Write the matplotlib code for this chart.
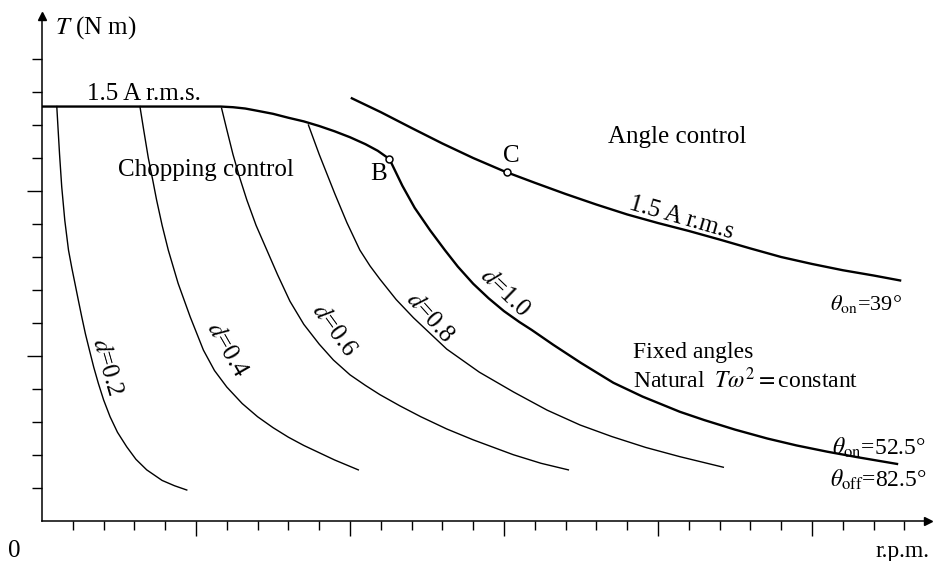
import matplotlib
matplotlib.use("Agg")
import matplotlib.pyplot as plt
from matplotlib.ticker import FixedLocator, NullFormatter

plt.rcParams["font.family"] = ["Liberation Serif", "DejaVu Serif"]
plt.rcParams["mathtext.fontset"] = "stix"

# ==========================
# Curve data (speed in tick units, torque in tick units)
# ==========================

# 1.5 A r.m.s. current limit under chopping control, up to base point B
limit_speed = [0.0, 5.8, 6.2, 6.6, 7.0, 7.5, 8.0, 8.5, 9.0, 9.5, 10.0, 10.5, 10.9, 11.28]
limit_torque = [12.55, 12.55, 12.53, 12.49, 12.42, 12.33, 12.21, 12.10, 11.96,
                11.80, 11.62, 11.41, 11.21, 10.96]

# angle control envelope at 1.5 A r.m.s. (theta_on = 39 deg)
angle_speed = [10.06, 11.0, 12.0, 13.0, 14.0, 15.0, 16.0, 17.0, 18.0, 19.0,
               20.0, 21.0, 22.0, 23.0, 24.0, 25.0, 26.0, 27.0, 27.86]
angle_torque = [12.80, 12.38, 11.90, 11.43, 10.99, 10.59, 10.24, 9.90, 9.58, 9.28,
                9.02, 8.78, 8.52, 8.25, 7.99, 7.78, 7.59, 7.43, 7.28]

# natural characteristic, fixed angles (d = 1.0)
d10_speed = [11.28, 11.7, 12.1, 12.6, 13.08, 13.5, 14.0, 14.5, 15.0, 15.5, 15.9,
             16.6, 17.5, 18.55, 19.5, 20.71, 21.5, 22.5, 23.55, 24.5, 25.5, 26.5, 27.76]
d10_torque = [10.96, 10.15, 9.48, 8.80, 8.20, 7.70, 7.18, 6.74, 6.35, 6.02, 5.78,
              5.33, 4.78, 4.18, 3.76, 3.30, 3.05, 2.76, 2.49, 2.28, 2.09, 1.92, 1.72]

# chopping duty cycle curves
d02_speed = [0.48, 0.52, 0.57, 0.64, 0.74, 0.86, 0.97, 1.07, 1.18, 1.29, 1.41, 1.54,
             1.68, 1.83, 2.0, 2.21, 2.45, 2.75, 3.05, 3.40, 3.9, 4.3, 4.70]
d02_torque = [12.55, 11.9, 11.1, 10.12, 9.1, 8.2, 7.65, 7.19, 6.68, 6.18, 5.66, 5.17,
              4.65, 4.16, 3.66, 3.15, 2.68, 2.24, 1.86, 1.54, 1.22, 1.06, 0.93]

d04_speed = [3.18, 3.3, 3.45, 3.6, 3.72, 3.9, 4.1, 4.42, 4.81, 5.24, 5.6, 6.0,
             6.5, 7.0, 7.5, 8.0, 8.5, 9.0, 9.5, 10.27]
d04_torque = [12.55, 11.85, 11.0, 10.3, 9.72, 8.95, 8.2, 7.19, 6.18, 5.17, 4.55, 4.05,
              3.55, 3.15, 2.82, 2.53, 2.28, 2.06, 1.84, 1.54]

d06_speed = [5.83, 6.0, 6.2, 6.4, 6.65, 6.95, 7.3, 7.65, 8.05, 8.5, 9.0, 9.46, 10.0,
             10.5, 10.97, 11.62, 12.3, 13.14, 14.0, 15.3, 16.2, 17.09]
d06_torque = [12.5, 11.85, 11.1, 10.45, 9.72, 8.95, 8.2, 7.45, 6.65, 5.95, 5.35, 4.87,
              4.42, 4.1, 3.82, 3.48, 3.15, 2.78, 2.45, 2.0, 1.74, 1.54]

d08_speed = [8.65, 9.0, 9.51, 9.9, 10.32, 10.65, 10.97, 11.5, 12.06, 13.14, 14.2,
             15.31, 16.4, 17.47, 18.5, 19.6, 20.71, 22.12]
d08_torque = [11.99, 11.1, 9.9, 9.03, 8.2, 7.72, 7.32, 6.7, 6.15, 5.2, 4.5,
              3.9, 3.35, 2.9, 2.55, 2.22, 1.94, 1.62]

# marked operating points
point_labels = ["B", "C"]
point_speed = [11.28, 15.09]
point_torque = [10.96, 10.56]

duty_labels = ["0.2", "0.4", "0.6", "0.8", "1.0"]

# ==========================
# Figure
# ==========================

fig = plt.figure(figsize=(9.33, 5.61), dpi=100)
ax = fig.add_axes([0.04502, 0.07184, 0.9491, 0.9])
ax.set_xlim(0, 28.75)
ax.set_ylim(0, 15.3)

thick = 1.7
thin = 1.0

ax.plot(limit_speed, limit_torque, color="black", lw=thick)
ax.plot(angle_speed, angle_torque, color="black", lw=thick)
ax.plot(d10_speed, d10_torque, color="black", lw=thick)

for xs, ys in [(d02_speed, d02_torque), (d04_speed, d04_torque),
               (d06_speed, d06_torque), (d08_speed, d08_torque)]:
    ax.plot(xs, ys, color="black", lw=thin)

ax.plot(point_speed, point_torque, "o", ms=5, mfc="white", mec="black",
        mew=1.1, zorder=5)

# ==========================
# Axes styling
# ==========================

for side in ["top", "right"]:
    ax.spines[side].set_visible(False)
for side in ["left", "bottom"]:
    ax.spines[side].set_linewidth(1.1)

ax.xaxis.set_major_locator(FixedLocator([5, 10, 15, 20, 25]))
ax.xaxis.set_minor_locator(FixedLocator([k for k in range(1, 29) if k % 5]))
ax.yaxis.set_major_locator(FixedLocator([5, 10]))
ax.yaxis.set_minor_locator(FixedLocator([k for k in range(1, 15) if k % 5]))
ax.xaxis.set_major_formatter(NullFormatter())
ax.yaxis.set_major_formatter(NullFormatter())
ax.tick_params(axis="x", which="major", direction="out", length=11, width=1.0)
ax.tick_params(axis="x", which="minor", direction="out", length=6.5, width=1.0)
ax.tick_params(axis="y", which="major", direction="out", length=11, width=1.0)
ax.tick_params(axis="y", which="minor", direction="out", length=7, width=1.0)

ax.plot(1, 0, ">", color="black", ms=6, transform=ax.transAxes, clip_on=False)
ax.plot(0, 1, "^", color="black", ms=6, transform=ax.transAxes, clip_on=False)

# ==========================
# Labels
# ==========================

fs = 18

ax.text(0.42, 14.77, r"$T$ (N m)", fontsize=fs, ha="left", va="baseline")
ax.text(-0.91, -1.10, "0", fontsize=fs, ha="center", va="baseline")
ax.text(28.83, -1.10, "r.p.m.", fontsize=17, ha="right", va="baseline")

ax.text(1.46, 12.75, "1.5 A r.m.s.", fontsize=fs, ha="left", va="baseline")
ax.text(2.47, 10.44, "Chopping control", fontsize=fs, ha="left", va="baseline")
ax.text(18.38, 11.45, "Angle control", fontsize=fs, ha="left", va="baseline")
ax.text(19.03, 9.45, "1.5 A r.m.s", fontsize=fs, ha="left", va="baseline",
        rotation=-16, rotation_mode="anchor")

ax.text(10.65, 10.32, point_labels[0], fontsize=fs, ha="left", va="baseline")
ax.text(14.97, 10.87, point_labels[1], fontsize=fs, ha="left", va="baseline")

ax.text(19.19, 4.92, "Fixed angles", fontsize=17, ha="left", va="baseline")
ax.text(19.19, 4.01, r"Natural $\;T\omega^2=$constant", fontsize=17,
        ha="left", va="baseline")

ax.text(25.58, 6.38, r"$\theta_{\mathrm{on}}$=39°", fontsize=16, ha="left", va="baseline")
ax.text(25.64, 1.99, r"$\theta_{\mathrm{on}}$=52.5°", fontsize=17, ha="left", va="baseline")
ax.text(25.58, 1.03, r"$\theta_{\mathrm{off}}$=82.5°", fontsize=17, ha="left", va="baseline")

duty_pos = [(2.11, 4.66, -74), (6.0, 5.17, -60), (9.48, 5.78, -54),
            (12.6, 6.17, -48), (15.03, 6.9, -44)]
for lab, (x, y, rot) in zip(duty_labels, duty_pos):
    ax.text(x, y, r"$d$=" + lab, fontsize=fs, ha="center", va="center",
            rotation=rot, rotation_mode="anchor")

fig.savefig("out.png", dpi=100)
